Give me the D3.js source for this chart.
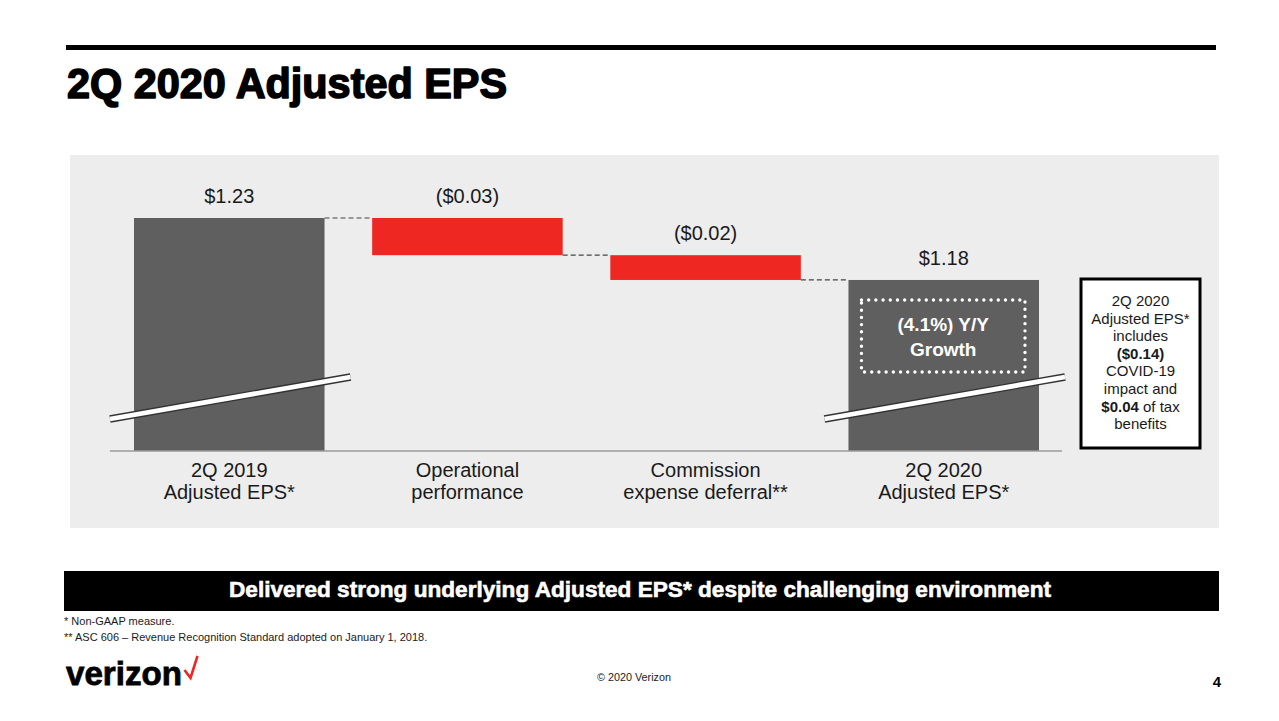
<!DOCTYPE html>
<html>
<head>
<meta charset="utf-8">
<script src="https://cdn.jsdelivr.net/npm/d3@7"></script>
<style>
  html, body { margin: 0; padding: 0; background: #ffffff; }
  svg { display: block; font-family: "Liberation Sans", Arial, sans-serif; }
</style>
</head>
<body>
<svg id="chart" width="1279" height="721"></svg>
<script>
// ---- data ----
const categories = ["2Q 2019|Adjusted EPS*", "Operational|performance", "Commission|expense deferral**", "2Q 2020|Adjusted EPS*"];
const changes = [1.23, -0.03, -0.02, 1.18];          // first & last are totals
const kinds = ["total", "delta", "delta", "total"];
const valueLabels = ["$1.23", "($0.03)", "($0.02)", "$1.18"];
const axisFloor = 1.042;                              // truncated axis baseline (broken bars)
const growthLabel = ["(4.1%) Y/Y", "Growth"];
const calloutLines = ["2Q 2020", "Adjusted EPS*", "includes", "**($0.14)**", "COVID-19", "impact and", "**$0.04** of tax", "benefits"];
const title = "2Q 2020 Adjusted EPS";
const banner = "Delivered strong underlying  Adjusted EPS* despite challenging environment";
const footnotes = ["* Non-GAAP measure.", "** ASC 606 \u2013 Revenue Recognition Standard adopted on January 1, 2018."];

// ---- build waterfall rows ----
let running = 0;
const rows = categories.map((c, i) => {
  let start, end;
  if (kinds[i] === "total") { start = axisFloor; end = changes[i]; running = changes[i]; }
  else { start = running; end = running + changes[i]; running = end; }
  return { cat: c, kind: kinds[i], start, end, top: Math.max(start, end), bottom: Math.min(start, end), label: valueLabels[i] };
});

const svg = d3.select("#chart");
const GRAY = "#5f5f5f", RED = "#ee2722", PANEL = "#ededed", TXT = "#1a1a1a";

// top rule & title
svg.append("rect").attr("x", 66).attr("y", 45).attr("width", 1150).attr("height", 5).attr("fill", "#000");
svg.append("text").attr("x", 67).attr("y", 98).attr("font-size", 43).attr("font-weight", 700)
  .attr("textLength", 440).attr("lengthAdjust", "spacingAndGlyphs").attr("fill", "#000")
  .attr("stroke", "#000").attr("stroke-width", 1.6).attr("stroke-linejoin", "round").text(title);

// panel
svg.append("rect").attr("x", 70).attr("y", 155).attr("width", 1149).attr("height", 373).attr("fill", PANEL);

// scales
const x = d3.scaleBand().domain(categories).range([134, 1039]).paddingInner(0.2).paddingOuter(0);
const y = d3.scaleLinear().domain([axisFloor, 1.23]).range([451, 218]);
const bw = x.bandwidth();

const g = svg.append("g");

// bars
g.selectAll("rect.bar").data(rows).join("rect")
  .attr("class", "bar")
  .attr("x", d => x(d.cat)).attr("width", bw)
  .attr("y", d => y(d.top)).attr("height", d => y(d.bottom) - y(d.top))
  .attr("fill", d => d.kind === "total" ? GRAY : RED);

// connectors
const conn = rows.slice(0, -1).map((d, i) => ({ x1: x(d.cat) + bw, x2: x(rows[i + 1].cat), v: d.end }));
g.selectAll("line.conn").data(conn).join("line")
  .attr("x1", d => d.x1).attr("x2", d => d.x2)
  .attr("y1", d => y(d.v)).attr("y2", d => y(d.v))
  .attr("stroke", "#444").attr("stroke-width", 1.2).attr("stroke-dasharray", "5,3");

// axis baseline
g.append("line").attr("x1", x(categories[0]) - 24).attr("x2", x(categories[3]) + bw + 23)
  .attr("y1", y(axisFloor)).attr("y2", y(axisFloor)).attr("stroke", "#9a9a9a").attr("stroke-width", 1.5);

// break marks on totals
rows.filter(d => d.kind === "total").forEach(d => {
  const x0 = x(d.cat) - 24, x1 = x(d.cat) + bw + 26;
  const y0 = y(axisFloor) - 32, y1 = y(axisFloor) - 74;
  g.append("line").attr("x1", x0).attr("x2", x1).attr("y1", y0).attr("y2", y1)
    .attr("stroke", "#333").attr("stroke-width", 7.5);
  g.append("line").attr("x1", x0).attr("x2", x1).attr("y1", y0).attr("y2", y1)
    .attr("stroke", "#ffffff").attr("stroke-width", 4.8);
});

// value labels
g.selectAll("text.val").data(rows).join("text")
  .attr("class", "val")
  .attr("x", d => x(d.cat) + bw / 2).attr("y", d => y(d.top) - 15)
  .attr("text-anchor", "middle").attr("font-size", 20).attr("fill", TXT)
  .text(d => d.label);

// category labels
const catText = g.selectAll("text.cat").data(rows).join("text")
  .attr("class", "cat")
  .attr("text-anchor", "middle").attr("font-size", 20).attr("fill", TXT);
catText.each(function (d) {
  const parts = d.cat.split("|");
  const t = d3.select(this);
  parts.forEach((p, i) => {
    t.append("tspan").attr("x", x(d.cat) + bw / 2).attr("y", y(axisFloor) + 26 + i * 22).text(p);
  });
});

// growth dotted box on last bar
const last = rows[3];
const bx0 = x(last.cat) + 13, bx1 = x(last.cat) + bw - 14;
const by0 = y(last.top) + 20, by1 = y(last.top) + 92;
g.append("rect").attr("x", bx0).attr("y", by0).attr("width", bx1 - bx0).attr("height", by1 - by0)
  .attr("fill", "none").attr("stroke", "#fff").attr("stroke-width", 3.4)
  .attr("stroke-linecap", "round").attr("stroke-dasharray", "0,7.2");
growthLabel.forEach((t, i) => {
  g.append("text").attr("x", (bx0 + bx1) / 2).attr("y", by0 + 31 + i * 25)
    .attr("text-anchor", "middle").attr("font-size", 19).attr("font-weight", 700).attr("fill", "#fff").text(t);
});

// callout box
svg.append("rect").attr("x", 1081).attr("y", 279).attr("width", 119).attr("height", 169)
  .attr("fill", "#fff").attr("stroke", "#000").attr("stroke-width", 3);
calloutLines.forEach((line, i) => {
  const t = svg.append("text").attr("x", 1140.5).attr("y", 306 + i * 17.6)
    .attr("text-anchor", "middle").attr("font-size", 15).attr("fill", TXT);
  line.split(/(\*\*[^*]+\*\*)/).filter(s => s.length).forEach(s => {
    const bold = s.startsWith("**") && s.endsWith("**") && s.length > 4;
    t.append("tspan").attr("font-weight", bold ? 700 : 400).text(bold ? s.slice(2, -2) : s);
  });
});

// banner
svg.append("rect").attr("x", 64).attr("y", 571).attr("width", 1155).attr("height", 40).attr("fill", "#000");
svg.append("text").attr("x", 229).attr("y", 597).attr("font-size", 22).attr("font-weight", 700)
  .attr("textLength", 822).attr("lengthAdjust", "spacingAndGlyphs").attr("fill", "#fff")
  .attr("stroke", "#fff").attr("stroke-width", 0.6).text(banner);

// footnotes
footnotes.forEach((f, i) => {
  svg.append("text").attr("x", 64).attr("y", 625 + i * 16).attr("font-size", 11).attr("fill", TXT).text(f);
});

// logo
svg.append("text").attr("x", 66).attr("y", 685).attr("font-size", 34).attr("font-weight", 700)
  .attr("textLength", 116).attr("lengthAdjust", "spacingAndGlyphs").attr("fill", "#000")
  .attr("stroke", "#000").attr("stroke-width", 0.8).text("verizon");
svg.append("path").attr("d", "M184.5,670 L190.5,678 L197.5,656").attr("fill", "none")
  .attr("stroke", RED).attr("stroke-width", 2.6).attr("stroke-linejoin", "miter");

// copyright & page number
svg.append("text").attr("x", 597).attr("y", 681).attr("font-size", 10).attr("textLength", 74)
  .attr("lengthAdjust", "spacingAndGlyphs").attr("fill", TXT).text("\u00a9 2020 Verizon");
svg.append("text").attr("x", 1221).attr("y", 687).attr("text-anchor", "end").attr("font-size", 15)
  .attr("font-weight", 700).attr("fill", "#000").text("4");
</script>
</body>
</html>
